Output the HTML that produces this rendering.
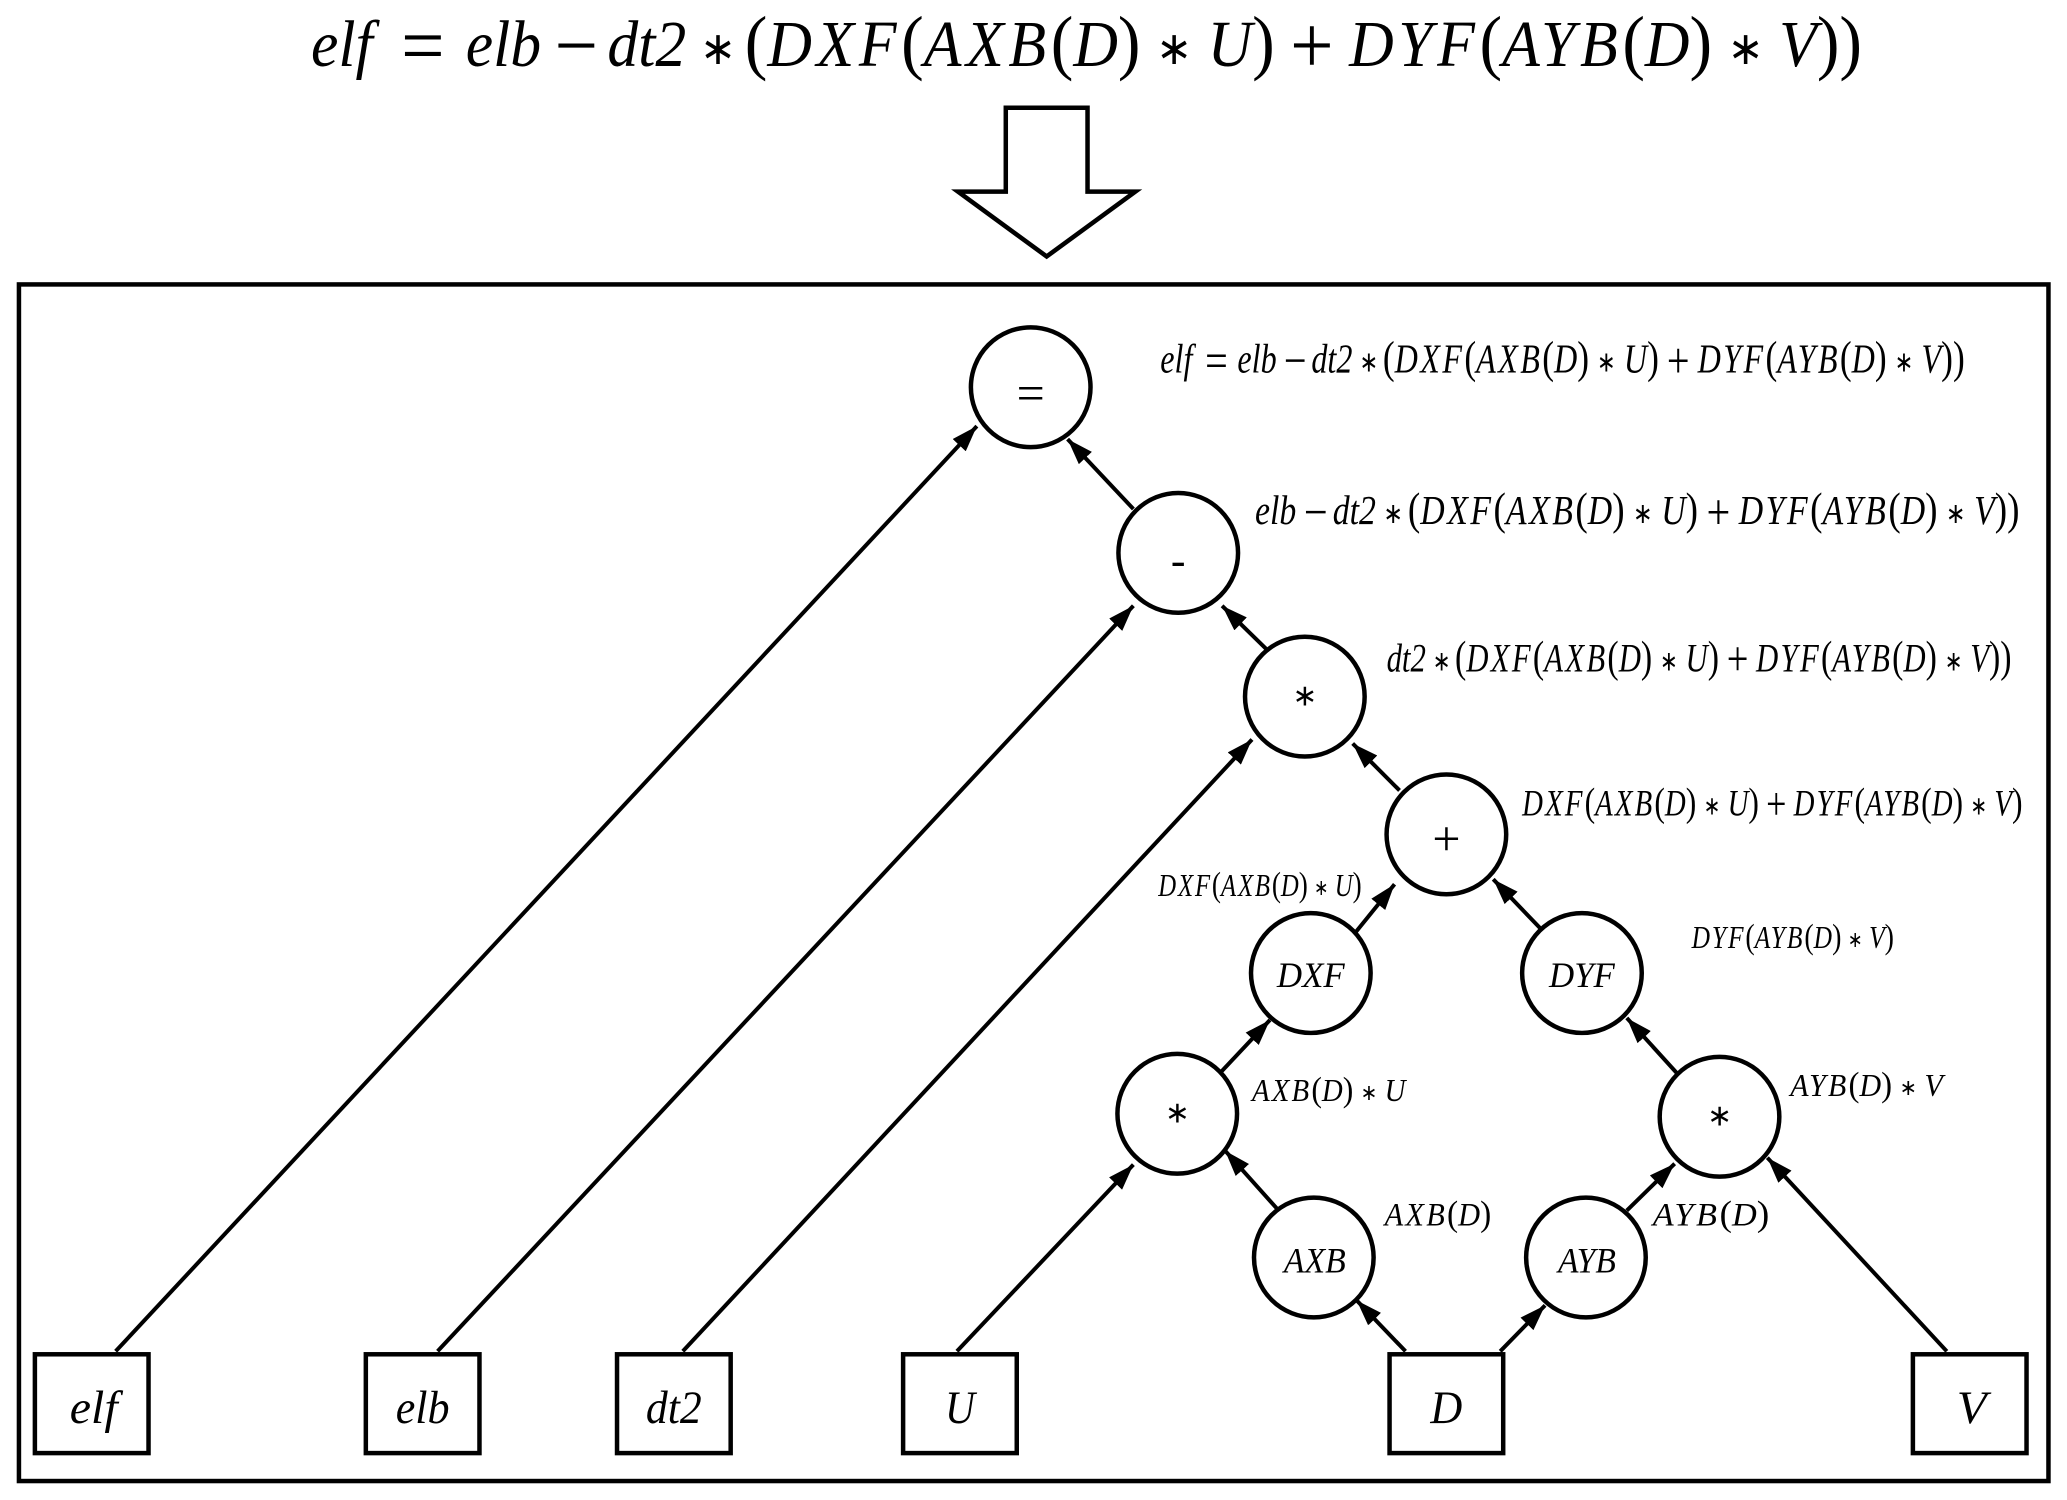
<!DOCTYPE html>
<html><head><meta charset="utf-8"><style>
html,body{margin:0;padding:0;background:#fff}
svg{display:block}
text{font-family:"Liberation Serif",serif;fill:#000}
.i{font-style:italic}
.u{font-style:normal}
.n{text-anchor:middle}
.c{letter-spacing:.075em}
.p{font-style:normal;font-size:110%}
.o{font-style:normal;font-size:125%;baseline-shift:-.09em}
.s{font-style:normal;font-size:70%;font-family:"DejaVu Sans",sans-serif;baseline-shift:.04em}
.a{font-family:"DejaVu Sans",sans-serif;font-size:30px}
</style></head><body>
<svg width="2067" height="1500" viewBox="0 0 2073.6 1503" preserveAspectRatio="none" xmlns="http://www.w3.org/2000/svg">
<defs><marker id="a" markerUnits="userSpaceOnUse" viewBox="0 0 26 18" refX="26" refY="9" markerWidth="26" markerHeight="18" orient="auto"><path d="M0 0L26 9L0 18z" fill="#000"/></marker></defs>

<text class="i" x="312" y="66" font-size="66" textLength="1556" lengthAdjust="spacingAndGlyphs">elf <tspan class="o" dx="14">=</tspan> <tspan dx="6">elb</tspan> <tspan class="o" dx="-2">−</tspan> <tspan dx="-.1em">dt2</tspan> <tspan class="s" dx="-.04em">∗</tspan> <tspan class="p" dx="-.1em">(</tspan><tspan class="c">DXF</tspan><tspan class="p">(</tspan><tspan class="c">AXB</tspan><tspan class="p">(</tspan>D<tspan class="p">)</tspan> <tspan class="s">∗</tspan> U<tspan class="p">)</tspan> <tspan class="o">+</tspan> <tspan class="c">DYF</tspan><tspan class="p">(</tspan><tspan class="c">AYB</tspan><tspan class="p">(</tspan>D<tspan class="p">)</tspan> <tspan class="s">∗</tspan> V<tspan class="p">))</tspan></text>

<path d="M1009 108H1091V192H1139L1050 257L961 192H1009Z" fill="#fff" stroke="#000" stroke-width="4.5"/>
<rect x="19" y="285" width="2036" height="1199" fill="none" stroke="#000" stroke-width="4.5"/>

<g stroke="#000" stroke-width="4" fill="none">
<line x1="116" y1="1354" x2="980" y2="427" marker-end="url(#a)"/>
<line x1="439" y1="1354" x2="1137" y2="607" marker-end="url(#a)"/>
<line x1="685" y1="1354" x2="1256" y2="741" marker-end="url(#a)"/>
<line x1="960" y1="1354" x2="1137" y2="1167" marker-end="url(#a)"/>
<line x1="1410" y1="1354" x2="1361" y2="1303" marker-end="url(#a)"/>
<line x1="1505" y1="1354" x2="1550" y2="1308" marker-end="url(#a)"/>
<line x1="1953" y1="1354" x2="1773" y2="1160" marker-end="url(#a)"/>
<line x1="1281" y1="1211" x2="1229" y2="1153" marker-end="url(#a)"/>
<line x1="1632" y1="1213" x2="1680" y2="1166" marker-end="url(#a)"/>
<line x1="1225" y1="1074" x2="1274" y2="1022" marker-end="url(#a)"/>
<line x1="1682" y1="1075" x2="1632" y2="1020" marker-end="url(#a)"/>
<line x1="1356" y1="939" x2="1399" y2="886" marker-end="url(#a)"/>
<line x1="1546" y1="931" x2="1498" y2="881" marker-end="url(#a)"/>
<line x1="1404" y1="792" x2="1357" y2="745" marker-end="url(#a)"/>
<line x1="1270" y1="650" x2="1226" y2="607" marker-end="url(#a)"/>
<line x1="1137" y1="510" x2="1071" y2="440" marker-end="url(#a)"/>
</g>

<g fill="#fff" stroke="#000" stroke-width="4.5">
<circle cx="1034" cy="388" r="60"/>
<circle cx="1182" cy="554" r="60"/>
<circle cx="1309" cy="698" r="60"/>
<circle cx="1451" cy="836" r="60"/>
<circle cx="1315" cy="975" r="60"/>
<circle cx="1587" cy="975" r="60"/>
<circle cx="1181" cy="1116" r="60"/>
<circle cx="1725" cy="1119" r="60"/>
<circle cx="1318" cy="1260" r="60"/>
<circle cx="1591" cy="1260" r="60"/>
<rect x="35" y="1357" width="114" height="99"/>
<rect x="367" y="1357" width="114" height="99"/>
<rect x="619" y="1357" width="114" height="99"/>
<rect x="906" y="1357" width="114" height="99"/>
<rect x="1394" y="1357" width="114" height="99"/>
<rect x="1919" y="1357" width="114" height="99"/>
</g>

<text class="n u" x="1034" y="411" font-size="50">=</text>
<text class="n u" x="1182" y="576" font-size="44">-</text>
<text class="n a" x="1309" y="707">∗</text>
<text class="n u" x="1451" y="857" font-size="50">+</text>
<text class="n a" x="1181" y="1125">∗</text>
<text class="n a" x="1725" y="1128">∗</text>
<text class="n i" x="1315" y="989" font-size="36" textLength="68" lengthAdjust="spacingAndGlyphs">DXF</text>
<text class="n i" x="1587" y="989" font-size="36" textLength="66" lengthAdjust="spacingAndGlyphs">DYF</text>
<text class="n i" x="1319" y="1275" font-size="36" textLength="62" lengthAdjust="spacingAndGlyphs">AXB</text>
<text class="n i" x="1592" y="1275" font-size="36" textLength="58" lengthAdjust="spacingAndGlyphs">AYB</text>
<text class="n i" x="94" y="1426" font-size="47" textLength="48" lengthAdjust="spacingAndGlyphs">elf</text>
<text class="n i" x="424" y="1426" font-size="47" textLength="54" lengthAdjust="spacingAndGlyphs">elb</text>
<text class="n i" x="676" y="1426" font-size="47" textLength="56" lengthAdjust="spacingAndGlyphs">dt2</text>
<text class="n i" x="963" y="1426" font-size="47" textLength="30" lengthAdjust="spacingAndGlyphs">U</text>
<text class="n i" x="1451" y="1426" font-size="47" textLength="32" lengthAdjust="spacingAndGlyphs">D</text>
<text class="n i" x="1978" y="1426" font-size="47" textLength="30" lengthAdjust="spacingAndGlyphs">V</text>

<text class="i" x="1164" y="373" font-size="41" textLength="807" lengthAdjust="spacingAndGlyphs">elf <tspan class="o" dx="6">=</tspan> <tspan dx="2">elb</tspan> <tspan class="o" dx="-1">−</tspan> <tspan dx="-.1em">dt2</tspan> <tspan class="s" dx="-.04em">∗</tspan> <tspan class="p" dx="-.1em">(</tspan><tspan class="c">DXF</tspan><tspan class="p">(</tspan><tspan class="c">AXB</tspan><tspan class="p">(</tspan>D<tspan class="p">)</tspan> <tspan class="s">∗</tspan> U<tspan class="p">)</tspan> <tspan class="o">+</tspan> <tspan class="c">DYF</tspan><tspan class="p">(</tspan><tspan class="c">AYB</tspan><tspan class="p">(</tspan>D<tspan class="p">)</tspan> <tspan class="s">∗</tspan> V<tspan class="p">))</tspan></text>
<text class="i" x="1259" y="525" font-size="41" textLength="767" lengthAdjust="spacingAndGlyphs">elb <tspan class="o" dx="-1">−</tspan> <tspan dx="-.1em">dt2</tspan> <tspan class="s" dx="-.04em">∗</tspan> <tspan class="p" dx="-.1em">(</tspan><tspan class="c">DXF</tspan><tspan class="p">(</tspan><tspan class="c">AXB</tspan><tspan class="p">(</tspan>D<tspan class="p">)</tspan> <tspan class="s">∗</tspan> U<tspan class="p">)</tspan> <tspan class="o">+</tspan> <tspan class="c">DYF</tspan><tspan class="p">(</tspan><tspan class="c">AYB</tspan><tspan class="p">(</tspan>D<tspan class="p">)</tspan> <tspan class="s">∗</tspan> V<tspan class="p">))</tspan></text>
<text class="i" x="1391" y="673" font-size="40" textLength="627" lengthAdjust="spacingAndGlyphs">dt2 <tspan class="s" dx="-.04em">∗</tspan> <tspan class="p" dx="-.1em">(</tspan><tspan class="c">DXF</tspan><tspan class="p">(</tspan><tspan class="c">AXB</tspan><tspan class="p">(</tspan>D<tspan class="p">)</tspan> <tspan class="s">∗</tspan> U<tspan class="p">)</tspan> <tspan class="o">+</tspan> <tspan class="c">DYF</tspan><tspan class="p">(</tspan><tspan class="c">AYB</tspan><tspan class="p">(</tspan>D<tspan class="p">)</tspan> <tspan class="s">∗</tspan> V<tspan class="p">))</tspan></text>
<text class="i" x="1527" y="817" font-size="37" textLength="502" lengthAdjust="spacingAndGlyphs"><tspan class="c">DXF</tspan><tspan class="p">(</tspan><tspan class="c">AXB</tspan><tspan class="p">(</tspan>D<tspan class="p">)</tspan> <tspan class="s">∗</tspan> U<tspan class="p">)</tspan> <tspan class="o">+</tspan> <tspan class="c">DYF</tspan><tspan class="p">(</tspan><tspan class="c">AYB</tspan><tspan class="p">(</tspan>D<tspan class="p">)</tspan> <tspan class="s">∗</tspan> V<tspan class="p">)</tspan></text>
<text class="i" x="1162" y="898" font-size="32" textLength="204" lengthAdjust="spacingAndGlyphs"><tspan class="c">DXF</tspan><tspan class="p">(</tspan><tspan class="c">AXB</tspan><tspan class="p">(</tspan>D<tspan class="p">)</tspan> <tspan class="s">∗</tspan> U<tspan class="p">)</tspan></text>
<text class="i" x="1697" y="950" font-size="32" textLength="203" lengthAdjust="spacingAndGlyphs"><tspan class="c">DYF</tspan><tspan class="p">(</tspan><tspan class="c">AYB</tspan><tspan class="p">(</tspan>D<tspan class="p">)</tspan> <tspan class="s">∗</tspan> V<tspan class="p">)</tspan></text>
<text class="i" x="1256" y="1103" font-size="32" textLength="154" lengthAdjust="spacingAndGlyphs"><tspan class="c">AXB</tspan><tspan class="p">(</tspan>D<tspan class="p">)</tspan> <tspan class="s">∗</tspan> U</text>
<text class="i" x="1796" y="1098" font-size="32" textLength="153" lengthAdjust="spacingAndGlyphs"><tspan class="c">AYB</tspan><tspan class="p">(</tspan>D<tspan class="p">)</tspan> <tspan class="s">∗</tspan> V</text>
<text class="i" x="1389" y="1228" font-size="33" textLength="107" lengthAdjust="spacingAndGlyphs"><tspan class="c">AXB</tspan><tspan class="p">(</tspan>D<tspan class="p">)</tspan></text>
<text class="i" x="1658" y="1228" font-size="33" textLength="117" lengthAdjust="spacingAndGlyphs"><tspan class="c">AYB</tspan><tspan class="p">(</tspan>D<tspan class="p">)</tspan></text>
</svg>
</body></html>
